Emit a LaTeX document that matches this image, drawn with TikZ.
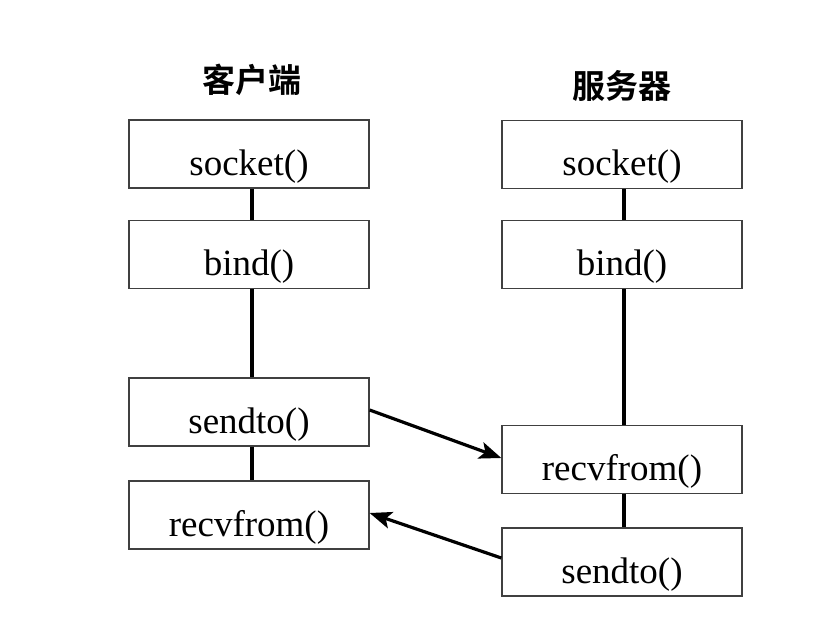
\documentclass[tikz,border=0pt]{standalone}
\usepackage{fontspec}
\setmainfont{Liberation Serif}
\newfontfamily\cjk{Noto Sans CJK SC Bold}
\usetikzlibrary{arrows.meta}
\begin{document}
\begin{tikzpicture}[x=1pt,y=-1pt,
  fnbox/.style={draw=black!75,line width=1.3pt,minimum width=240pt,minimum height=68pt,inner sep=0pt,fill=white,text height=46pt,text depth=4pt,font=\fontsize{37}{40}\selectfont},
  title/.style={font=\cjk\fontsize{33}{36}\selectfont},
  life/.style={line width=4pt,black},
  msg/.style={line width=3.2pt,black,-{Stealth[length=22pt,width=17pt,inset=5pt]}}]
\useasboundingbox (0,0) rectangle (833,619);
\node[title] (ct) at (252,80) {客户端};
\node[title] (st) at (622,86) {服务器};
% client
\node[fnbox] (csock) at (249,154) {socket()};
\node[fnbox] (cbind) at (249,254.5) {bind()};
\node[fnbox] (csend) at (249,412) {sendto()};
\node[fnbox] (crecv) at (249,515) {recvfrom()};
% server
\node[fnbox] (ssock) at (622,154.5) {socket()};
\node[fnbox] (sbind) at (622,254.5) {bind()};
\node[fnbox] (srecv) at (622,459.5) {recvfrom()};
\node[fnbox] (ssend) at (622,562) {sendto()};
% lifelines
\draw[life] (csock.south -| 252,0) -- (cbind.north -| 252,0);
\draw[life] (cbind.south -| 252,0) -- (csend.north -| 252,0);
\draw[life] (csend.south -| 252,0) -- (crecv.north -| 252,0);
\draw[life] (ssock.south -| 624,0) -- (sbind.north -| 624,0);
\draw[life] (sbind.south -| 624,0) -- (srecv.north -| 624,0);
\draw[life] (srecv.south -| 624,0) -- (ssend.north -| 624,0);
% messages
\draw[msg] (csend.east |- 0,410) -- (srecv.west |- 0,458);
\draw[msg] (ssend.west |- 0,558) -- (crecv.east |- 0,513);
\end{tikzpicture}
\end{document}
